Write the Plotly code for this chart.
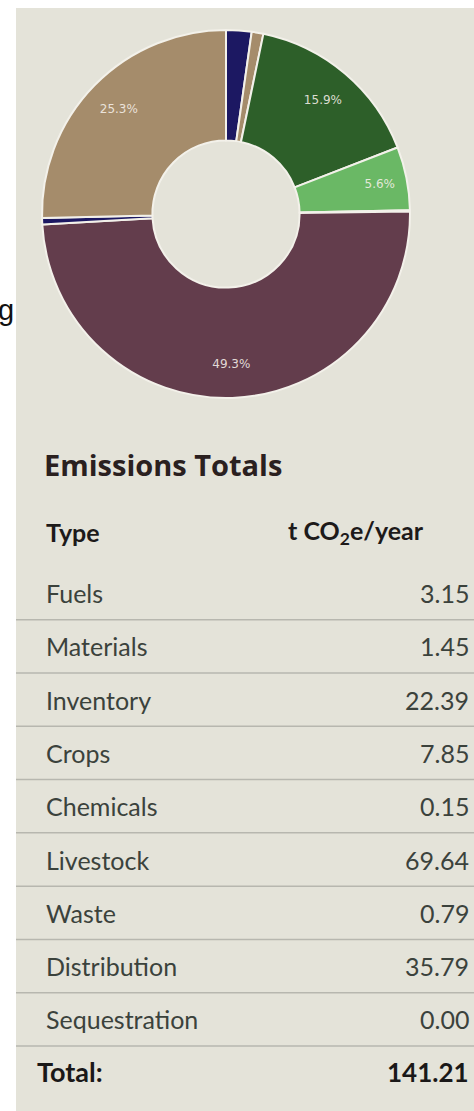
import plotly.graph_objects as go

# ---------------- data ----------------
categories = ["Fuels", "Materials", "Inventory", "Crops", "Chemicals",
              "Livestock", "Waste", "Distribution", "Sequestration"]
emissions = [3.15, 1.45, 22.39, 7.85, 0.15, 69.64, 0.79, 35.79, 0.00]
slice_colors = ["#1c1862", "#a58c6b", "#2d5f29", "#6ab865", "#e8e6de",
                "#633d4c", "#1c1862", "#a58c6b", "#6ab865"]
table_title = "Emissions Totals"
col_headers = ["Type", "t CO<sub>2</sub>e/year"]
total_label = "Total:"

# ---------------- layout helpers ----------------
W, H = 474, 1111
def fx(p):
    return p / W
def fy(p):
    return 1 - p / H

total = sum(emissions)
pct = [v / total * 100 for v in emissions]
slice_text = [f"{p:.1f}%" if p >= 4 else "" for p in pct]

pie_domain = dict(x=[fx(42), fx(410)], y=[fy(398), fy(30)])

fig = go.Figure()

# the donut itself
fig.add_trace(go.Pie(
    labels=categories,
    values=emissions,
    textinfo="none",
    marker=dict(colors=slice_colors, line=dict(color="#f3f1ea", width=2)),
    hole=0.40,
    sort=False,
    direction="clockwise",
    rotation=0,
    hoverinfo="label+value",
    showlegend=False,
    domain=pie_domain,
))

# transparent overlay ring that carries the percentage labels further out
fig.add_trace(go.Pie(
    labels=categories,
    values=emissions,
    text=slice_text,
    textinfo="text",
    textposition="inside",
    insidetextorientation="horizontal",
    textfont=dict(family="DejaVu Sans", size=12, color="rgba(246,240,234,0.88)"),
    marker=dict(colors=["rgba(0,0,0,0)"] * len(categories), line=dict(width=0)),
    hole=0.63,
    sort=False,
    direction="clockwise",
    rotation=0,
    hoverinfo="skip",
    showlegend=False,
    domain=pie_domain,
))

shapes = []
# beige panel
shapes.append(dict(type="rect", xref="paper", yref="paper",
                   x0=fx(16), x1=1, y0=0, y1=fy(8),
                   fillcolor="#e4e3d9", line=dict(width=0), layer="below"))

annotations = []
# stray letter of the underlying page at the left edge
annotations.append(dict(text="g", x=fx(16), y=fy(310), xref="paper", yref="paper",
                        xanchor="right", yanchor="middle", showarrow=False,
                        font=dict(family="Liberation Sans", size=29, color="#111111")))

# title
annotations.append(dict(text=f"<b>{table_title}</b>", x=fx(42), y=fy(464),
                        xref="paper", yref="paper", xanchor="left", yanchor="middle",
                        showarrow=False,
                        font=dict(family="Open Sans", size=29, color="#2a201f")))
# column headers
annotations.append(dict(text=f"<b>{col_headers[0]}</b>", x=fx(44), y=fy(532),
                        xref="paper", yref="paper", xanchor="left", yanchor="middle",
                        showarrow=False, font=dict(family="Lato", size=25, color="#1d1a1a")))
annotations.append(dict(text=f"<b>{col_headers[1]}</b>", x=fx(286), y=fy(532),
                        xref="paper", yref="paper", xanchor="left", yanchor="middle",
                        showarrow=False, font=dict(family="Lato", size=25, color="#1d1a1a")))

row0 = 593
pitch = 53.3
for i, (cat, val) in enumerate(zip(categories, emissions)):
    yc = row0 + i * pitch
    annotations.append(dict(text=cat, x=fx(44), y=fy(yc), xref="paper", yref="paper",
                            xanchor="left", yanchor="middle", showarrow=False,
                            font=dict(family="Lato", size=25, color="#3b423c")))
    annotations.append(dict(text=f"{val:.2f}", x=fx(471), y=fy(yc), xref="paper",
                            yref="paper", xanchor="right", yanchor="middle",
                            showarrow=False,
                            font=dict(family="Lato", size=25, color="#3b423c")))
    yl = yc + pitch / 2
    shapes.append(dict(type="line", xref="paper", yref="paper",
                       x0=fx(16), x1=1, y0=fy(yl), y1=fy(yl),
                       line=dict(color="#b7b7af", width=1.5)))

ytot = row0 + len(categories) * pitch - 1
annotations.append(dict(text=f"<b>{total_label}</b>", x=fx(35), y=fy(ytot),
                        xref="paper", yref="paper", xanchor="left", yanchor="middle",
                        showarrow=False, font=dict(family="Lato", size=27, color="#1a1818")))
annotations.append(dict(text=f"<b>{total:.2f}</b>", x=fx(471), y=fy(ytot),
                        xref="paper", yref="paper", xanchor="right", yanchor="middle",
                        showarrow=False, font=dict(family="Lato", size=26, color="#1a1818")))

fig.update_layout(
    width=W, height=H,
    margin=dict(l=0, r=0, t=0, b=0),
    paper_bgcolor="white",
    plot_bgcolor="white",
    shapes=shapes,
    annotations=annotations,
    showlegend=False,
)

fig.write_html("out.html", config={"displayModeBar": False},
               post_script="document.body.style.margin='0px';document.body.style.overflow='hidden';")
